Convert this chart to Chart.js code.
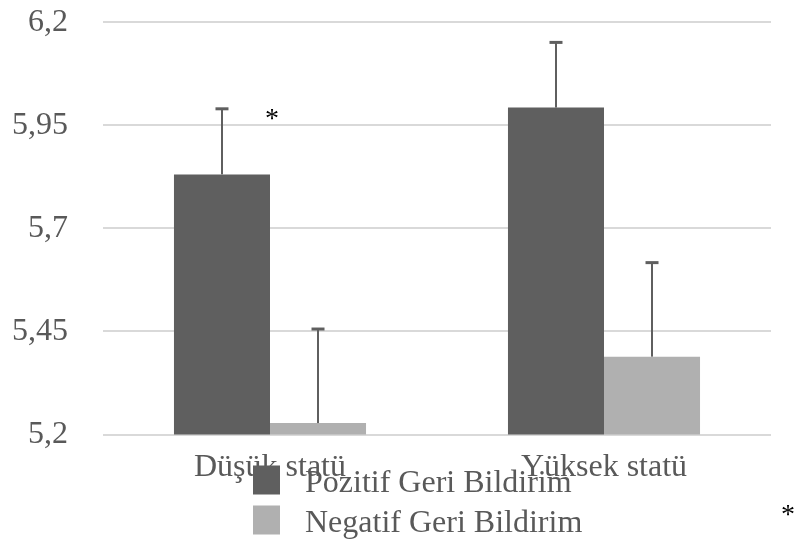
<!DOCTYPE html>
<html>
<head>
<meta charset="utf-8">
<script src="https://cdn.jsdelivr.net/npm/chart.js@4.4.1/dist/chart.umd.min.js"></script>
<style>
  body { margin: 0; background: #fff; }
  #wrap { width: 795px; height: 545px; position: relative; }
</style>
</head>
<body>
<div id="wrap"><canvas id="grafico"></canvas></div>
<script>
// dados
const categorias = ["Düşük statü", "Yüksek statü"];
const pozitif = [5.831, 5.993];
const pozitifErro = [0.159, 0.158];
const negatif = [5.228, 5.389];
const negatifErro = [0.228, 0.228];
const ticksY = [5.2, 5.45, 5.7, 5.95, 6.2];

const corEscura = "#5f5f5f";
const corClara = "#b0b0b0";
const corTexto = "#595959";
const fonte = "'Liberation Serif', 'Times New Roman', serif";

function formatarValor(v) {
    return Number(v.toFixed(2)).toString().replace(".", ",");
}

// barras de erro (só para cima)
const barrasErro = {
    id: "barrasErro",
    afterDatasetsDraw(chart) {
        const ctx = chart.ctx;
        const y = chart.scales.y;
        ctx.save();
        ctx.strokeStyle = corEscura;
        chart.data.datasets.forEach((ds, i) => {
            const meta = chart.getDatasetMeta(i);
            meta.data.forEach((bar, j) => {
                const topo = y.getPixelForValue(ds.data[j] + ds.erro[j]);
                const base = y.getPixelForValue(ds.data[j]);
                ctx.lineWidth = 2;
                ctx.beginPath();
                ctx.moveTo(bar.x, base);
                ctx.lineTo(bar.x, topo);
                ctx.stroke();
                ctx.lineWidth = 3;
                ctx.beginPath();
                ctx.moveTo(bar.x - 6.5, topo);
                ctx.lineTo(bar.x + 6.5, topo);
                ctx.stroke();
            });
        });
        ctx.restore();
    }
};

// legenda vertical + asteriscos
const legendaVertical = {
    id: "legendaVertical",
    afterDraw(chart) {
        const ctx = chart.ctx;
        ctx.save();
        ctx.font = "32px " + fonte;
        ctx.textBaseline = "alphabetic";
        ctx.textAlign = "left";
        chart.data.datasets.forEach((ds, i) => {
            const cy = 480 + i * 40;
            ctx.fillStyle = ds.backgroundColor;
            ctx.fillRect(253, cy - 14.5, 27, 29);
            ctx.fillStyle = corTexto;
            ctx.fillText(ds.label, 305, cy + 12);
        });
        ctx.fillStyle = "#000";
        ctx.font = "28px " + fonte;
        ctx.textAlign = "center";
        const x = chart.scales.x;
        ctx.fillText("*", x.getPixelForValue(0) + 2, 127);
        ctx.fillText("*", 788, 523);
        ctx.restore();
    }
};

const ctx = document.getElementById("grafico").getContext("2d");
const myChart = new Chart(ctx, {
    type: "bar",
    data: {
        labels: categorias,
        datasets: [
            { label: "Pozitif Geri Bildirim", data: pozitif, erro: pozitifErro, backgroundColor: corEscura },
            { label: "Negatif Geri Bildirim", data: negatif, erro: negatifErro, backgroundColor: corClara }
        ]
    },
    options: {
        responsive: true,
        maintainAspectRatio: false,
        animation: false,
        layout: { padding: { left: 9, right: 24, top: 0, bottom: 44 } },
        categoryPercentage: 0.575,
        barPercentage: 1,
        plugins: {
            legend: { display: false },
            tooltip: { enabled: false }
        },
        scales: {
            x: {
                grid: { display: false, drawTicks: false },
                border: { display: false },
                ticks: { color: corTexto, padding: 14, font: { family: fonte, size: 32 } }
            },
            y: {
                min: ticksY[0],
                max: ticksY[ticksY.length - 1],
                afterBuildTicks(axis) {
                    axis.ticks = ticksY.map(v => ({ value: v }));
                },
                grid: { color: "#d9d9d9", lineWidth: 2, drawTicks: true, tickLength: 32, tickColor: "rgba(0,0,0,0)" },
                border: { display: false },
                ticks: {
                    color: corTexto,
                    padding: 3,
                    font: { family: fonte, size: 32 },
                    callback: (v) => formatarValor(v)
                }
            }
        }
    },
    plugins: [barrasErro, legendaVertical]
});
</script>
</body>
</html>
